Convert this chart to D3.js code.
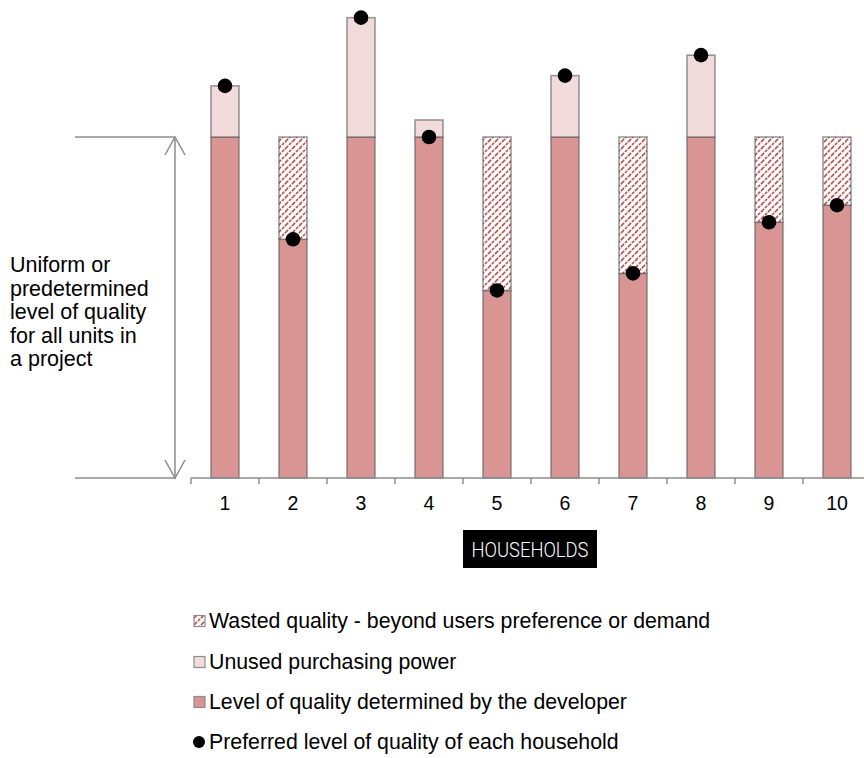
<!DOCTYPE html>
<html>
<head>
<meta charset="utf-8">
<script src="https://cdn.jsdelivr.net/npm/d3@7"></script>
<style>
  html, body { margin: 0; padding: 0; background: #fff; }
  svg { display: block; }
  text { font-family: "Liberation Sans", Arial, sans-serif; fill: #000; }
</style>
</head>
<body>
<svg id="chart" width="864" height="758"></svg>
<script>
// Households and their quality levels (uniform level = 100)
const households = ["1", "2", "3", "4", "5", "6", "7", "8", "9", "10"];
const developerLevel = [100, 70, 100, 100, 55, 100, 60, 100, 75, 80];
const unusedPower    = [15, 0, 35, 5, 0, 18, 0, 24, 0, 0];
const wastedQuality  = [0, 30, 0, 0, 45, 0, 40, 0, 25, 20];
const preferredLevel = [115, 70, 135, 100, 55, 118, 60, 124, 75, 80];
const uniformLevel = 100;

const legendLabels = [
  "Wasted quality - beyond users preference or demand",
  "Unused purchasing power",
  "Level of quality determined by the developer",
  "Preferred level of quality of each household"
];

const colors = {
  developer: "#d99594",
  unused: "#f2dcdb",
  hatch: "#c0504d",
  edge: "rgba(90,90,90,0.6)",
  axis: "#8c8c8c"
};

const svg = d3.select("#chart");

const x = d3.scaleBand().domain(households).range([191, 871]).paddingInner(0.588).paddingOuter(0.294);
const y = d3.scaleLinear().domain([0, 100]).range([478, 137]);

// hatch pattern for wasted quality
const defs = svg.append("defs");
const pat = defs.append("pattern")
  .attr("id", "hatch")
  .attr("patternUnits", "userSpaceOnUse")
  .attr("width", 7).attr("height", 7);
pat.append("rect").attr("width", 7).attr("height", 7).attr("fill", "#fff");
pat.append("path")
  .attr("d", "M-1,8 L8,-1 M-4.5,4.5 L4.5,-4.5 M2.5,11.5 L11.5,2.5")
  .attr("stroke", colors.hatch)
  .attr("stroke-width", 1.6)
  .attr("stroke-dasharray", "3,1.2");

// stacked data
const rows = households.map((h, i) => ({
  h,
  developer: developerLevel[i],
  unused: unusedPower[i],
  wasted: wastedQuality[i]
}));
const keys = ["developer", "unused", "wasted"];
const fills = { developer: colors.developer, unused: colors.unused, wasted: "url(#hatch)" };
const series = d3.stack().keys(keys)(rows);

const bars = svg.append("g");
series.forEach(s => {
  bars.selectAll(null)
    .data(s.filter(d => d[1] > d[0]))
    .join("rect")
    .attr("x", d => x(d.data.h))
    .attr("width", x.bandwidth())
    .attr("y", d => y(d[1]))
    .attr("height", d => y(d[0]) - y(d[1]))
    .attr("fill", fills[s.key])
    .attr("stroke", colors.edge)
    .attr("stroke-width", 1.6);
});

// preferred level markers
svg.append("g").selectAll("circle")
  .data(preferredLevel)
  .join("circle")
  .attr("cx", (d, i) => x(households[i]) + x.bandwidth() / 2)
  .attr("cy", d => y(d))
  .attr("r", 7.3)
  .attr("fill", "#000");

// horizontal axis
const axisG = svg.append("g").attr("transform", `translate(0,${y(0)})`);
axisG.append("line")
  .attr("x1", x.range()[0]).attr("x2", 864)
  .attr("stroke", colors.axis).attr("stroke-width", 1.5);
axisG.selectAll(".bt")
  .data(d3.range(households.length + 1))
  .join("line")
  .attr("x1", i => x.range()[0] + i * x.step())
  .attr("x2", i => x.range()[0] + i * x.step())
  .attr("y1", 0).attr("y2", 6)
  .attr("stroke", colors.axis).attr("stroke-width", 1.5);
const axis = d3.axisBottom(x).tickSize(0).tickPadding(18);
const labels = svg.append("g").attr("transform", `translate(0,${y(0)})`).call(axis);
labels.select(".domain").remove();
labels.selectAll("text")
  .style("font-family", "'Liberation Sans', Arial, sans-serif")
  .style("font-size", "19.5px")
  .attr("fill", "#000");

// axis title box
svg.append("rect")
  .attr("x", 463).attr("y", 530).attr("width", 134).attr("height", 38)
  .attr("fill", "#000");
svg.append("text")
  .attr("x", 530).attr("y", 557)
  .attr("text-anchor", "middle")
  .attr("textLength", 117)
  .attr("lengthAdjust", "spacingAndGlyphs")
  .style("font-family", "Roboto, 'DejaVu Sans', sans-serif")
  .style("font-weight", 300)
  .style("font-size", "20px")
  .style("fill", "#fff")
  .text("HOUSEHOLDS");

// uniform level annotation
const ann = svg.append("g").attr("stroke", colors.axis).attr("stroke-width", 1.5).attr("fill", "none");
ann.append("line").attr("x1", 75).attr("x2", 175).attr("y1", y(uniformLevel)).attr("y2", y(uniformLevel));
ann.append("line").attr("x1", 75).attr("x2", 176).attr("y1", y(0)).attr("y2", y(0));
ann.append("line").attr("x1", 175).attr("x2", 175).attr("y1", y(uniformLevel)).attr("y2", y(0));
ann.append("path").attr("d", `M165,${y(uniformLevel) + 18} L175,${y(uniformLevel)} L185,${y(uniformLevel) + 18}`);
ann.append("path").attr("d", `M165,${y(0) - 18} L175,${y(0)} L185,${y(0) - 18}`);

const note = ["Uniform or", "predetermined", "level of quality", "for all units in", "a project"];
svg.append("g").selectAll("text")
  .data(note)
  .join("text")
  .attr("x", 10)
  .attr("y", (d, i) => 272 + i * 23.6)
  .style("font-size", "21.5px")
  .text(d => d);

// legend
const legend = svg.append("g");
const legendY = [621, 662, 702, 742];
const legendFill = ["url(#hatch)", colors.unused, colors.developer];
legendFill.forEach((f, i) => {
  legend.append("rect")
    .attr("x", 194).attr("y", legendY[i] - 5.5)
    .attr("width", 11).attr("height", 11)
    .attr("fill", f)
    .attr("stroke", "#8c8c8c").attr("stroke-width", 1.2);
});
legend.append("circle").attr("cx", 199).attr("cy", legendY[3]).attr("r", 6).attr("fill", "#000");
legend.selectAll("text")
  .data(legendLabels)
  .join("text")
  .attr("x", 209)
  .attr("y", (d, i) => legendY[i] + 7)
  .style("font-size", "21.3px")
  .text(d => d);
</script>
</body>
</html>
